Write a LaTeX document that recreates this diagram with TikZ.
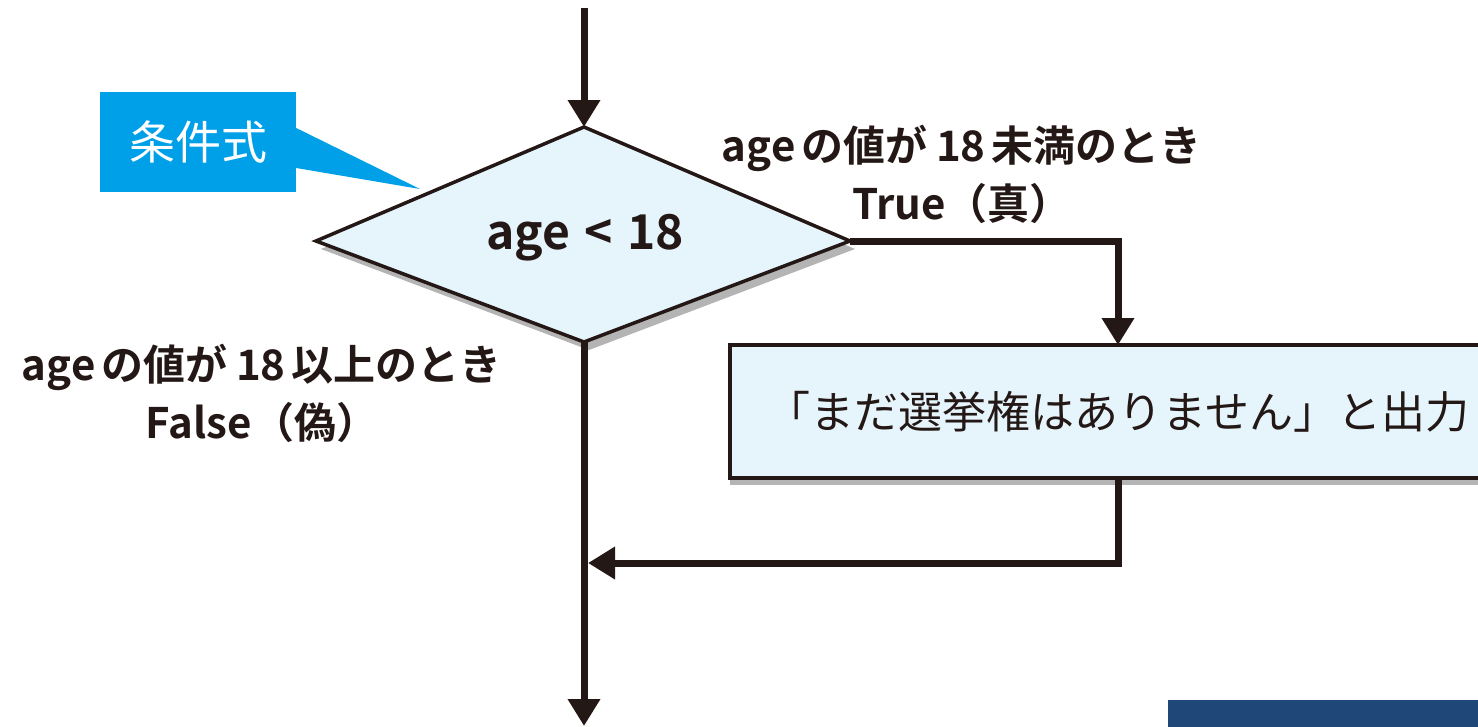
\documentclass[tikz,border=0pt]{standalone}
\usepackage{fontspec}
\setmainfont{Noto Sans CJK JP}[BoldFont={Noto Sans CJK JP Bold}]
\usetikzlibrary{shapes.geometric,arrows.meta}
\definecolor{ink}{HTML}{231815}
\definecolor{paleblue}{HTML}{E6F4FC}
\definecolor{callblue}{HTML}{00A0E9}
\definecolor{shadowgray}{HTML}{B4B4B4}
\definecolor{navy}{HTML}{1F4878}
\begin{document}
\begin{tikzpicture}[x=1pt,y=-1pt,
  flow/.style={line width=7pt, draw=ink, -{Triangle[length=27pt,width=31pt]}},
  decedge/.style={draw=ink, line width=3.5pt, fill=paleblue, line join=miter},
  dectext/.style={inner sep=0pt, font=\fontsize{48}{54}\selectfont\bfseries, text=ink},
  procbox/.style={rectangle, draw=ink, line width=4pt, fill=paleblue, inner sep=0pt, outer sep=0pt,
    minimum width=776pt, minimum height=133pt, font=\fontsize{44}{50}\selectfont, text=ink},
  boxshadow/.style={rectangle, fill=shadowgray, draw=none, inner sep=0pt, outer sep=0pt,
    minimum width=776pt, minimum height=133pt},
  lbl/.style={align=center, text=ink, font=\fontsize{42}{58}\selectfont\bfseries},
  callout/.style={rectangle, fill=callblue, inner sep=0pt, minimum width=196pt, minimum height=100pt,
    text=white, font=\fontsize{46}{52}\selectfont}
]
\useasboundingbox (0,0) rectangle (1478,726);
\clip (0,0) rectangle (1478,726);

% callout
\node[callout] (cond) at (198,142) {条件式};
\coordinate (ctip) at (420,189);
\fill[callblue] (cond.east |- 0,128) -- (ctip) -- (cond.east |- 0,168) -- cycle;

% decision (diamond drawn from its corner points)
\coordinate (dT) at (584,127);
\coordinate (dR) at (850,241);
\coordinate (dB) at (584,342);
\coordinate (dL) at (316,241);
\fill[shadowgray] ([shift={(5,8)}]dT) -- ([shift={(5,8)}]dR) -- ([shift={(5,8)}]dB) -- ([shift={(5,8)}]dL) -- cycle;
\path[decedge] (dT) -- (dR) -- (dB) -- (dL) -- cycle;
\node[dectext] (d) at (585,238) {age\hspace{0.3em}<\hspace{0.3em}18};

% process box
\node[boxshadow] (bsh) at (1118,418.5) {};
\node[procbox] (box) at (1118,411.5) {「まだ選挙権はありません」と出力};

% labels
\node[lbl] (tlab) at (962,174) {age\hspace{0.15em}の値が\hspace{0.2em}18\hspace{0.15em}未満のとき\\True（真）};
\node[lbl] (flab) at (262,393) {age\hspace{0.15em}の値が\hspace{0.2em}18\hspace{0.15em}以上のとき\\False（偽）};

% connectors
\coordinate (top) at (584,8);
\coordinate (bot) at (584,726);
\coordinate (merge) at (588,563);
\draw[flow] (top) -- (dT);
\draw[flow] (dR) -| (box.north);
\draw[flow] (box.south) |- (merge);
\draw[flow] (dB) -- (bot);

% bottom-right band
\node[rectangle, fill=navy, inner sep=0pt, minimum width=320pt, minimum height=30pt] (band) at (1328,715) {};
\end{tikzpicture}
\end{document}
